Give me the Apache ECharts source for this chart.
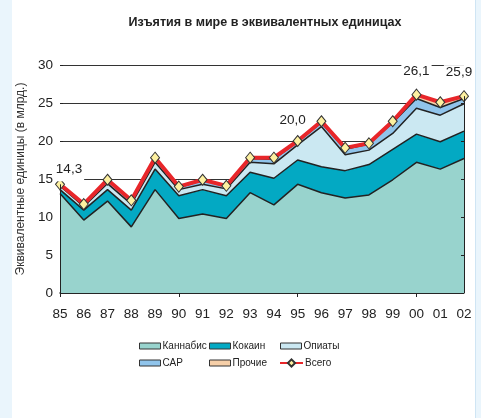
<!DOCTYPE html>
<html>
<head>
<meta charset="utf-8">
<script src="https://cdn.jsdelivr.net/npm/echarts@6/dist/echarts.min.js"></script>
<style>
  html, body { margin: 0; padding: 0; background: #eaf5fc; }
  #panel { position: absolute; left: 12px; top: 0; width: 463px; height: 418px; background: #fff; border-right: 1px solid #cfe5f4; }
  #chart { position: absolute; left: 0; top: 0; width: 481px; height: 418px; }
</style>
</head>
<body>
<div id="panel"></div>
<div id="chart"></div>
<script>
// годы
const years = ["85", "86", "87", "88", "89", "90", "91", "92", "93", "94", "95", "96", "97", "98", "99", "00", "01", "02"];

// слои (прирост), млрд. эквивалентных единиц
const cannabis = [13.1, 9.6, 12.1, 8.7, 13.6, 9.8, 10.4, 9.8, 13.2, 11.6, 14.3, 13.2, 12.5, 12.9, 14.9, 17.2, 16.3, 17.7];
const cocaine = [0.5, 1.3, 1.5, 2.2, 2.7, 3.0, 3.2, 3.0, 2.7, 3.5, 3.2, 3.4, 3.6, 4.0, 4.0, 3.7, 3.6, 3.6];
const opiates = [0.5, 0.5, 0.8, 0.8, 0.9, 0.8, 0.7, 0.9, 1.3, 1.9, 2.0, 5.3, 2.1, 1.9, 2.1, 3.4, 3.5, 3.6];
const ats = [0.1, 0.2, 0.4, 0.4, 0.5, 0.3, 0.5, 0.4, 0.5, 0.6, 0.4, 0.5, 0.7, 0.8, 1.4, 1.3, 1.0, 0.7];
const other = [0.1, 0.1, 0.1, 0.1, 0.1, 0.1, 0.1, 0.0, 0.1, 0.2, 0.1, 0.2, 0.2, 0.1, 0.2, 0.5, 0.7, 0.3];
const total = [14.3, 11.7, 14.9, 12.2, 17.8, 14.0, 14.9, 14.1, 17.8, 17.8, 20.0, 22.6, 19.1, 19.7, 22.6, 26.1, 25.1, 25.9];

// подписанные точки: индекс, текст, смещение
const labelled = [
  { i: 0, text: "14,3", offset: [10, 8], padding: [0, 2, 5, 0] },
  { i: 10, text: "20,0", offset: [-5, -3], padding: [0, 2] },
  { i: 15, text: "26,1", offset: [0, -5], padding: [0, 2] },
  { i: 17, text: "25,9", offset: [-5, -6], padding: [0, 2] },
];

const font = "'Liberation Sans', Arial, sans-serif";
const edge = "#222";

const myChart = echarts.init(document.getElementById("chart"));

// слой стопки
const layer = (name, data, color) => ({
  name: name,
  type: "line",
  stack: "all",
  data: data,
  symbol: "none",
  lineStyle: { color: edge, width: 1.5 },
  itemStyle: { color: color },
  areaStyle: { color: color, opacity: 1 },
  emphasis: { disabled: true },
});

const legendItem = (name, left, top, extra) =>
  Object.assign(
    {
      data: [name],
      left: left,
      top: top,
      icon: "rect",
      itemWidth: 21,
      itemHeight: 6,
      itemGap: 0,
      padding: 0,
      itemStyle: { borderColor: "#333", borderWidth: 1 },
      textStyle: { fontFamily: font, fontSize: 10, color: "#222", padding: [0, 0, 0, -3] },
      selectedMode: false,
    },
    extra || {}
  );

const cannabisSeries = layer("Каннабис", cannabis, "#98d3cd");
// боковые края области
cannabisSeries.markLine = {
  silent: true,
  symbol: "none",
  label: { show: false },
  lineStyle: { color: edge, width: 1, type: "solid" },
  data: [
    [{ coord: [0, 0] }, { coord: [0, total[0]] }],
    [{ coord: [years.length - 1, 0] }, { coord: [years.length - 1, total[years.length - 1]] }],
  ],
};

const options = {
  animation: false,
  title: {
    text: "Изъятия в мире в эквивалентных единицах",
    left: 260,
    textAlign: "center",
    top: 11,
    textStyle: { fontFamily: font, fontWeight: "bold", fontSize: 12.5, color: "#222" },
  },
  grid: { left: 60, right: 17, top: 65, bottom: 125 },
  xAxis: {
    type: "category",
    data: years,
    boundaryGap: false,
    axisLine: { lineStyle: { color: edge, width: 1.5 } },
    axisTick: { show: true, length: 4, lineStyle: { color: edge }, interval: (i) => i % 5 === 0 },
    axisLabel: { interval: 0, margin: 14, fontFamily: font, fontSize: 13.5, color: "#222" },
  },
  yAxis: [
    {
      type: "value",
      min: 0,
      max: 30,
      interval: 5,
      name: "Эквивалентные единицы (в млрд.)",
      nameLocation: "middle",
      nameGap: 32,
      nameTextStyle: { fontFamily: font, fontSize: 12, color: "#333" },
      axisLine: { show: false },
      axisTick: { show: true, inside: true, length: 3, lineStyle: { color: edge } },
      axisLabel: { margin: 7, fontFamily: font, fontSize: 13.5, color: "#222" },
      splitLine: { lineStyle: { color: "#333", width: 1 } },
    },
    {
      type: "value",
      position: "right",
      min: 0,
      max: 30,
      interval: 5,
      z: 3,
      axisLine: { show: false },
      axisTick: { show: true, inside: true, length: 3, lineStyle: { color: edge } },
      axisLabel: { show: false },
      splitLine: { show: false },
    },
  ],
  legend: [
    legendItem("Каннабис", 139, 341),
    legendItem("Кокаин", 209, 341),
    legendItem("Опиаты", 280, 341),
    legendItem("САР", 139, 358),
    legendItem("Прочие", 209, 358),
    legendItem("Всего", 279, 358, { icon: null, itemWidth: 23, itemHeight: 9, itemStyle: {} }),
  ],
  series: [
    cannabisSeries,
    layer("Кокаин", cocaine, "#03a9c3"),
    layer("Опиаты", opiates, "#cbe8f2"),
    layer("САР", ats, "#90c4eb"),
    layer("Прочие", other, "#f6cfa8"),
    {
      name: "Всего",
      type: "line",
      data: total.map((v, i) => {
        const l = labelled.find((d) => d.i === i);
        if (!l) return v;
        return {
          value: v,
          label: {
            show: true,
            position: "top",
            distance: 5,
            offset: l.offset,
            formatter: l.text,
            fontFamily: font,
            fontSize: 13.5,
            color: "#222",
            backgroundColor: "#fff",
            padding: l.padding,
          },
        };
      }),
      z: 4,
      symbol: "diamond",
      symbolSize: [9, 11],
      showAllSymbol: true,
      lineStyle: { color: "#e8262a", width: 4 },
      itemStyle: { color: "#fdf0a0", borderColor: "#333", borderWidth: 1 },
      emphasis: { disabled: true },
    },
  ],
};

myChart.setOption(options);
</script>
</body>
</html>
